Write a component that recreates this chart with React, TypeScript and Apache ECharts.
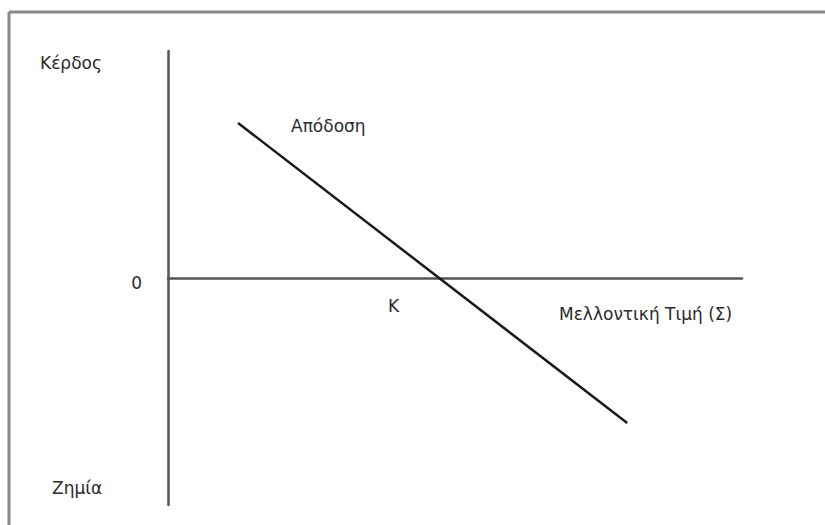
import React, { useEffect, useRef } from "react";
import * as echarts from "echarts";

// Payoff line of the position: future price (Σ) vs profit / loss
const priceValues: number[] = [1.22, 8.0];
const payoffValues: number[] = [6.83, -6.39];

const yTicks: number[] = [-10, 0, 10];
const lineLabel = "Απόδοση";
const profitLabel = "Κέρδος";
const lossLabel = "Ζημία";
const strikeLabel = "Κ";
const priceAxisLabel = "Μελλοντική Τιμή (Σ)";

const FONT = "DejaVu Sans, Verdana, sans-serif";
const TEXT_COLOR = "#2a2a2a";
const FONT_SIZE = 17;

export default function App() {
  const ref = useRef<HTMLDivElement>(null);

  useEffect(() => {
    if (!ref.current) return;
    const chart = echarts.init(ref.current, undefined, { renderer: "svg" });
    const label = (text: string, x: number, y: number) => ({
      type: "text",
      x,
      y,
      style: {
        text,
        fill: TEXT_COLOR,
        fontSize: FONT_SIZE,
        fontFamily: FONT,
        verticalAlign: "middle",
        align: "left",
      },
    });

    chart.setOption({
      animation: false,
      backgroundColor: "#fff",
      grid: { left: 168, right: 83, top: 51, bottom: 20 },
      xAxis: {
        type: "value",
        min: 0,
        max: 10,
        axisLine: { onZero: true, lineStyle: { color: "#555", width: 2.5 } },
        axisTick: { show: false },
        axisLabel: { show: false },
        splitLine: { show: false },
      },
      yAxis: {
        type: "value",
        min: yTicks[0],
        max: yTicks[yTicks.length - 1],
        interval: 10,
        axisLine: { show: true, onZero: false, lineStyle: { color: "#555", width: 2.5 } },
        axisTick: { show: false },
        splitLine: { show: false },
        axisLabel: {
          margin: 26,
          color: TEXT_COLOR,
          fontSize: FONT_SIZE,
          fontFamily: FONT,
          verticalAlign: "top",
          lineHeight: 10,
          formatter: (v: number) => (v === 0 ? "0" : ""),
        },
      },
      series: [
        {
          type: "line",
          data: priceValues.map((x, i) => [x, payoffValues[i]]),
          symbol: "none",
          lineStyle: { color: "#1a1a1a", width: 2.5 },
        },
      ],
      graphic: [
        // frame edges
        { type: "line", shape: { x1: 9, y1: 12, x2: 825, y2: 12 }, style: { stroke: "#888", lineWidth: 3 } },
        { type: "line", shape: { x1: 9, y1: 12, x2: 9, y2: 525 }, style: { stroke: "#888", lineWidth: 3 } },
        label(profitLabel, 40, 63),
        label(lossLabel, 52, 488),
        label(lineLabel, 291, 126),
        label(strikeLabel, 388, 306),
        label(priceAxisLabel, 559, 314),
      ],
    });

    return () => chart.dispose();
  }, []);

  return (
    <div
      ref={ref}
      style={{ position: "fixed", left: 0, top: 0, width: 825, height: 525 }}
    />
  );
}
